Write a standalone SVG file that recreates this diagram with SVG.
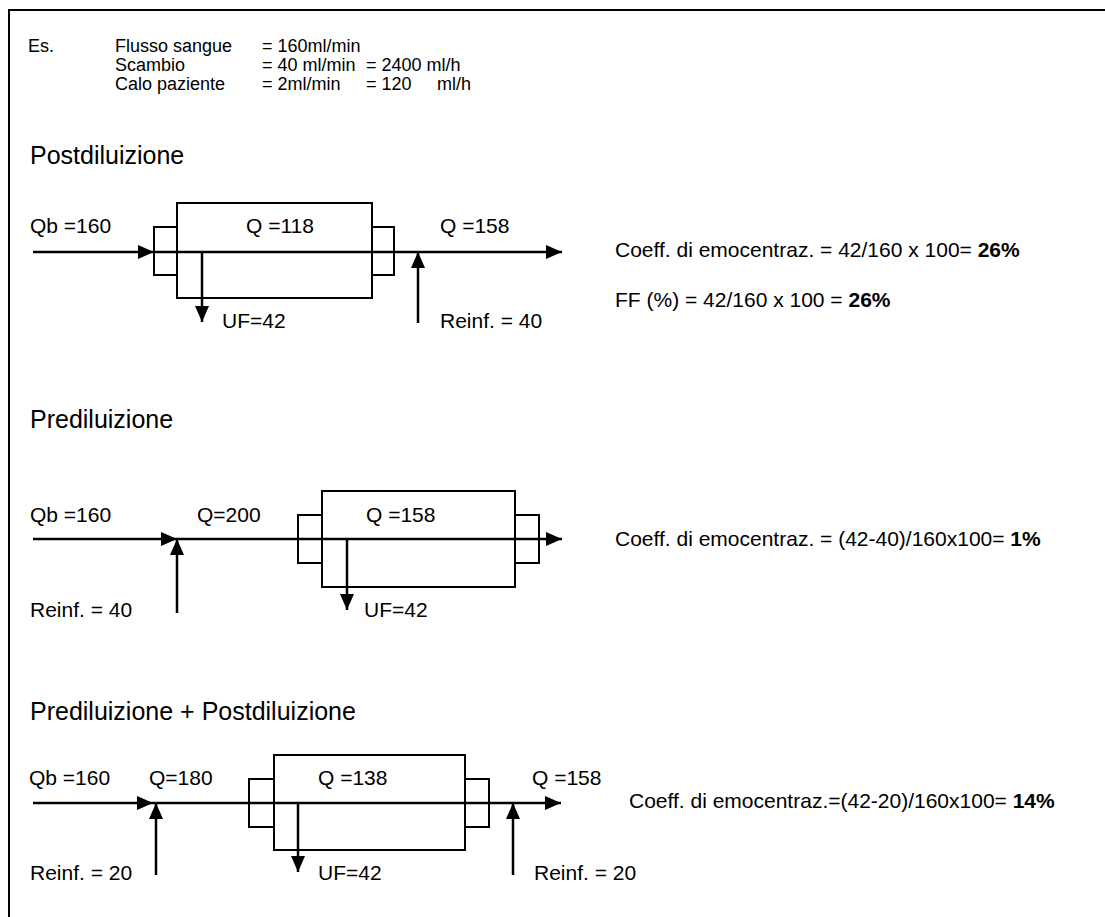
<svg xmlns="http://www.w3.org/2000/svg" width="1105" height="917" viewBox="0 0 1105 917">
<defs>
<marker id="ah" markerUnits="userSpaceOnUse" markerWidth="16" markerHeight="14" refX="16" refY="7" orient="auto" viewBox="0 0 16 14"><path d="M0,0 L16,7 L0,14 z" fill="#000"/></marker>
</defs>
<style>
text{font-family:"Liberation Sans",Arial,sans-serif;fill:#000}
.t{font-size:21px}
.h{font-size:25px}
.s{font-size:18px}
.b{font-weight:bold}
.box{fill:none;stroke:#000;stroke-width:2}
.flow{fill:none;stroke:#000;stroke-width:2.5;marker-end:url(#ah)}
.frame{fill:none;stroke:#000;stroke-width:2}
</style>
<rect width="1105" height="917" fill="#fff"/>
<path class="frame" d="M9,917 V10 H1105"/>

<g id="header" class="s">
<text class="s" x="28" y="52">Es.</text>
<text class="s" x="115" y="52">Flusso sangue</text>
<text class="s" x="262" y="52">= 160ml/min</text>
<text class="s" x="115" y="71">Scambio</text>
<text class="s" x="262" y="71">= 40 ml/min</text>
<text class="s" x="366" y="71">= 2400 ml/h</text>
<text class="s" x="115" y="90">Calo paziente</text>
<text class="s" x="262" y="90">= 2ml/min</text>
<text class="s" x="366" y="90">= 120</text>
<text class="s" x="437" y="90">ml/h</text>
</g>

<g id="heading-post"><text class="h" x="30" y="164">Postdiluizione</text></g>
<g id="heading-pre"><text class="h" x="30" y="428">Prediluizione</text></g>
<g id="heading-prepost"><text class="h" x="30" y="720">Prediluizione + Postdiluizione</text></g>

<g id="filter-post">
<rect class="box" x="177" y="203" width="195" height="95"/>
<rect class="box" x="154" y="227" width="23" height="48"/>
<rect class="box" x="372" y="227" width="22" height="48"/>
</g>
<g id="filter-pre">
<rect class="box" x="322" y="491" width="193" height="96"/>
<rect class="box" x="298" y="515" width="24" height="48"/>
<rect class="box" x="515" y="515" width="24" height="48"/>
</g>
<g id="filter-prepost">
<rect class="box" x="274" y="755" width="191" height="95"/>
<rect class="box" x="249" y="779" width="25" height="48"/>
<rect class="box" x="465" y="779" width="24" height="48"/>
</g>

<g id="connectors">
<line class="flow" x1="33" y1="252" x2="154" y2="252"/>
<line class="flow" x1="154" y1="252" x2="562" y2="252"/>
<line class="flow" x1="202" y1="252" x2="202" y2="322"/>
<line class="flow" x1="418" y1="323" x2="418" y2="252"/>

<line class="flow" x1="33" y1="539" x2="177" y2="539"/>
<line class="flow" x1="177" y1="539" x2="562" y2="539"/>
<line class="flow" x1="177" y1="613" x2="177" y2="539"/>
<line class="flow" x1="347" y1="539" x2="347" y2="610"/>

<line class="flow" x1="33" y1="803" x2="153" y2="803"/>
<line class="flow" x1="153" y1="803" x2="561" y2="803"/>
<line class="flow" x1="156" y1="875" x2="156" y2="803"/>
<line class="flow" x1="298" y1="803" x2="298" y2="872"/>
<line class="flow" x1="513" y1="875" x2="513" y2="803"/>
</g>

<g id="labels-post" class="t">
<text class="t" x="30" y="233">Qb =160</text>
<text class="t" x="246" y="233">Q =118</text>
<text class="t" x="440" y="233">Q =158</text>
<text class="t" x="222" y="328">UF=42</text>
<text class="t" x="440" y="328">Reinf. = 40</text>
</g>
<g id="result-post">
<text class="t" x="615" y="257">Coeff. di emocentraz. = 42/160 x 100= <tspan class="b">26%</tspan></text>
<text class="t" x="615" y="307">FF (%) = 42/160 x 100 = <tspan class="b">26%</tspan></text>
</g>

<g id="labels-pre">
<text class="t" x="30" y="522">Qb =160</text>
<text class="t" x="197" y="522">Q=200</text>
<text class="t" x="366" y="522">Q =158</text>
<text class="t" x="30" y="617">Reinf. = 40</text>
<text class="t" x="364" y="617">UF=42</text>
</g>
<g id="result-pre">
<text class="t" x="615" y="546">Coeff. di emocentraz. = (42-40)/160x100= <tspan class="b">1%</tspan></text>
</g>

<g id="labels-prepost">
<text class="t" x="29" y="785">Qb =160</text>
<text class="t" x="149" y="785">Q=180</text>
<text class="t" x="318" y="785">Q =138</text>
<text class="t" x="532" y="785">Q =158</text>
<text class="t" x="30" y="880">Reinf. = 20</text>
<text class="t" x="318" y="880">UF=42</text>
<text class="t" x="534" y="880">Reinf. = 20</text>
</g>
<g id="result-prepost">
<text class="t" x="629" y="808">Coeff. di emocentraz.=(42-20)/160x100= <tspan class="b">14%</tspan></text>
</g>
</svg>
